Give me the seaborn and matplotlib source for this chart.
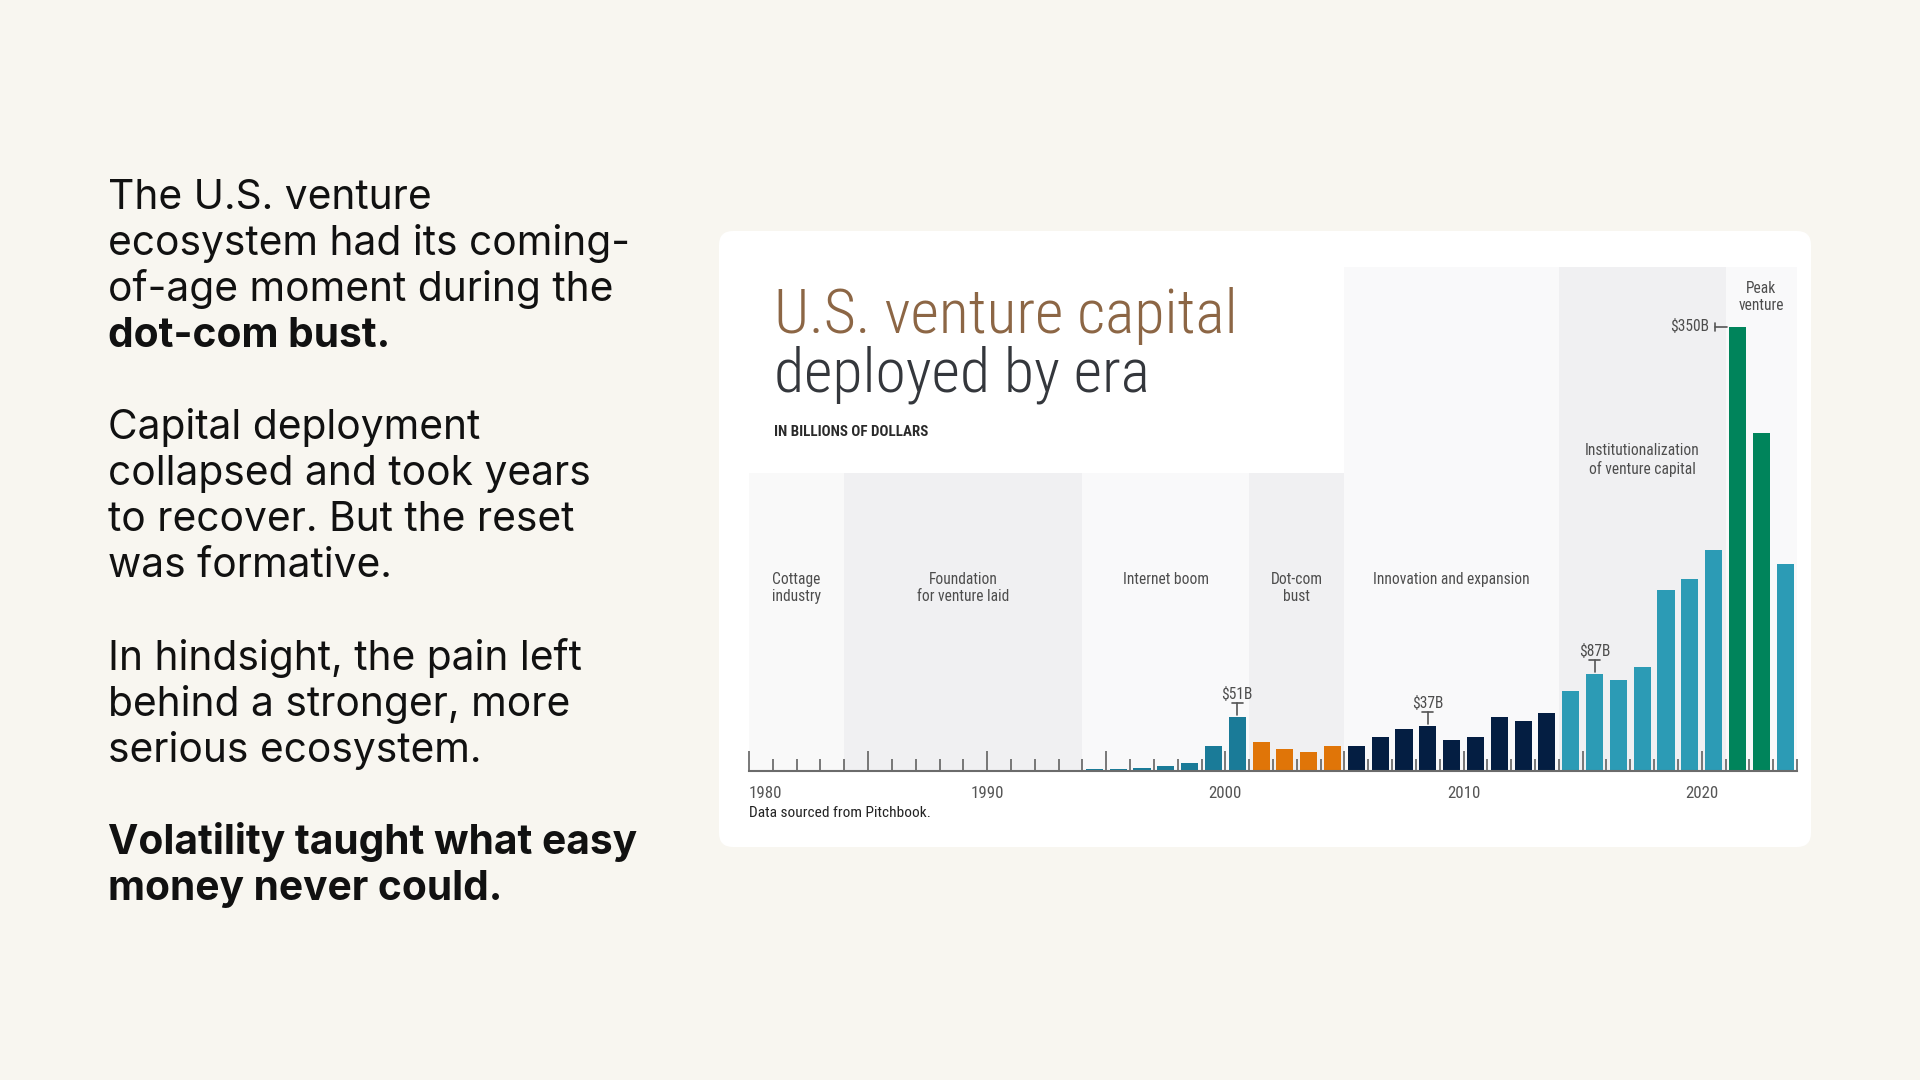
import os
import numpy as np
import pandas as pd
import matplotlib
matplotlib.use("Agg")
import matplotlib.pyplot as plt
import matplotlib.transforms as mtransforms
from matplotlib import font_manager as fm
from matplotlib.patches import FancyBboxPatch
import seaborn as sns

# ---------------- data ----------------
years = [1994, 1995, 1996, 1997, 1998, 1999, 2000, 2001, 2002, 2003,
         2004, 2005, 2006, 2007, 2008, 2009, 2010, 2011, 2012, 2013,
         2014, 2015, 2016, 2017, 2018, 2019, 2020, 2021, 2022, 2023]
values = [1.0, 1.0, 2.4, 3.7, 6.1, 19.7, 42.6, 22.6, 17.3, 15.0,
          19.2, 19.7, 26.8, 32.9, 35.2, 23.9, 26.8, 42.6, 38.9, 45.5,
          62.5, 76.5, 71.7, 81.4, 142.1, 150.8, 174.0, 350.0, 266.0, 162.9]
bar_groups = ["boom", "boom", "boom", "boom", "boom", "boom", "boom",
              "bust", "bust", "bust", "bust",
              "innov", "innov", "innov", "innov", "innov", "innov", "innov", "innov", "innov",
              "inst", "inst", "inst", "inst", "inst", "inst", "inst",
              "peak", "peak", "inst"]
group_colors = {"boom": "#1a7b98", "bust": "#e07508", "innov": "#041e42",
                "inst": "#2c9bb5", "peak": "#00845b"}

era_labels = ["Cottage\nindustry", "Foundation\nfor venture laid", "Internet boom",
              "Dot-com\nbust", "Innovation and expansion",
              "Institutionalization\nof venture capital", "Peak\nventure"]
era_starts = [1980, 1984, 1994, 2001, 2005, 2014, 2021]
era_ends = [1984, 1994, 2001, 2005, 2014, 2021, 2024]

annot_years = [2000, 2008, 2015]
annot_texts = ["$51B", "$37B", "$87B"]
peak_year = 2021
peak_text = "$350B"

decade_ticks = [1980, 1990, 2000, 2010, 2020]

left_lines = [
    ("The U.S. venture", "normal", 0),
    ("ecosystem had its coming-", "normal", 1),
    ("of-age moment during the", "normal", 2),
    ("dot-com bust.", "bold", 3),
    ("Capital deployment", "normal", 5),
    ("collapsed and took years", "normal", 6),
    ("to recover. But the reset", "normal", 7),
    ("was formative.", "normal", 8),
    ("In hindsight, the pain left", "normal", 10),
    ("behind a stronger, more", "normal", 11),
    ("serious ecosystem.", "normal", 12),
    ("Volatility taught what easy", "bold", 14),
    ("money never could.", "bold", 15),
]

# ---------------- fonts ----------------
_paths = [f.fname for f in fm.fontManager.ttflist]


def pick_font(names, fallback_family, fallback_weight="normal"):
    for n in names:
        for p in _paths:
            if os.path.basename(p).lower() == n.lower():
                return fm.FontProperties(fname=p)
    return fm.FontProperties(family=fallback_family, weight=fallback_weight)


def sized(fp, size):
    f = fp.copy()
    f.set_size(size)
    return f


title_fp = pick_font(["NotoSans-CondensedLight.ttf", "NotoSans-ExtraCondensedLight.ttf",
                      "RobotoCondensed-Light.ttf", "OpenSans-CondensedLight.ttf",
                      "DejaVuSansCondensed.ttf", "Roboto-Light.ttf", "Lato-Light.ttf"],
                     "DejaVu Sans", "light")
label_fp = pick_font(["NotoSans-SemiCondensed.ttf", "NotoSans-Condensed.ttf",
                      "RobotoCondensed-Regular.ttf", "DejaVuSansCondensed.ttf"],
                     "Noto Sans")
bold_fp = pick_font(["NotoSans-SemiCondensedBold.ttf", "NotoSans-CondensedBold.ttf",
                     "RobotoCondensed-Bold.ttf", "DejaVuSansCondensed-Bold.ttf"],
                    "Noto Sans", "bold")

LBL = 11.2
TXT_COL = "#4d4d4d"

# ---------------- figure ----------------
sns.set_theme(style="white")
W, H = 1920, 1080
fig = plt.figure(figsize=(19.2, 10.8), dpi=100)
fig.patch.set_facecolor("#f8f6f0")

# card
card = FancyBboxPatch((719, 1080 - 847), 1092, 616,
                      boxstyle="round,pad=0,rounding_size=14",
                      transform=mtransforms.IdentityTransform(),
                      facecolor="white", edgecolor="none", zorder=-5)
fig.patches.append(card)

base_px = 770.7
top_px = 267.0
ax = fig.add_axes([749 / W, 1 - base_px / H, 1048 / W, (base_px - top_px) / H])
ax.set_facecolor("none")

ymax = (base_px - top_px) / 1.2686

# era bands
lower_frac = (base_px - 473) / (base_px - top_px)
band_cols = ["#f9f9f9", "#f0f0f2", "#f9f9fa", "#f0f0f2", "#f9f9fa", "#f0f0f2", "#f9f9fa"]
for i, (s, e) in enumerate(zip(era_starts, era_ends)):
    topf = lower_frac if e <= 2005 else 1.0
    ax.axvspan(s, e, ymin=0, ymax=topf, color=band_cols[i], lw=0, zorder=0)

# bars
df = pd.DataFrame({"pos": np.array(years) + 0.5, "value": values, "group": bar_groups})
sns.barplot(data=df, x="pos", y="value", hue="group", palette=group_colors,
            native_scale=True, dodge=False, width=0.72, errorbar=None,
            saturation=1, legend=False, linewidth=0, ax=ax, zorder=2)
ax.set_xlim(1980, 2024)
ax.set_ylim(0, ymax)
ax.set_xlabel("")
ax.set_ylabel("")

# axis styling
for side in ["top", "right", "left"]:
    ax.spines[side].set_visible(False)
ax.spines["bottom"].set_color("#6b6b6b")
ax.spines["bottom"].set_linewidth(1.5)
ax.spines["bottom"].set_zorder(3)
ax.set_yticks([])
ax.set_xticks(list(range(1980, 2021, 5)))
ax.set_xticks(list(range(1980, 2025)), minor=True)
labs = [str(t) if t in decade_ticks else "" for t in range(1980, 2021, 5)]
ax.set_xticklabels(labs)
ax.tick_params(axis="x", which="major", direction="in", length=14.5, width=1.1,
               color="#555555", pad=11, labelcolor="#555555", bottom=True)
ax.tick_params(axis="x", which="minor", direction="in", length=8.5, width=1.1,
               color="#555555", bottom=True)
for lab in ax.get_xticklabels():
    lab.set_fontproperties(sized(label_fp, 12.2))
ax.get_xticklabels()[0].set_horizontalalignment("left")
ax.set_axisbelow(False)
ax.grid(False)

# era labels
xt = ax.get_xaxis_transform()
for lab, s, e in zip(era_labels, era_starts, era_ends):
    cx = (s + e) / 2
    if lab.startswith("Institutionalization"):
        ypx = 443
    elif lab.startswith("Peak"):
        ypx = 281
    else:
        ypx = 572
    yf = (base_px - ypx) / (base_px - top_px)
    ax.text(cx, yf, lab, transform=xt, ha="center", va="top", color=TXT_COL,
            fontproperties=sized(label_fp, LBL), linespacing=1.2, zorder=4)


def anchor(x, y):
    """Pixel-offset transform anchored at a data point."""
    dx, dy = ax.transData.transform((x, y))
    return mtransforms.offset_copy(mtransforms.IdentityTransform(), fig=fig,
                                   x=dx, y=dy, units="dots")


# annotations ("T" markers)
vals = dict(zip(years, values))
for yr, txt in zip(annot_years, annot_texts):
    v = vals[yr]
    x = yr + 0.5
    tr = anchor(x, v)
    ax.plot([0, 0], [2, 14], color="#555555", lw=1.2, zorder=4, transform=tr)
    ax.plot([-5.5, 5.5], [14, 14], color="#555555", lw=1.2, zorder=4, transform=tr)
    ax.text(0, 18, txt.replace("$", r"\$"), transform=tr, ha="center", va="baseline",
            color=TXT_COL, fontproperties=sized(label_fp, LBL), zorder=4)

# peak annotation (sideways)
pv = vals[peak_year]
tr = anchor(peak_year + 0.5 - 0.36, pv)
ax.plot([-14, -2], [0, 0], color="#555555", lw=1.2, transform=tr, zorder=4)
ax.plot([-14, -14], [-4, 4], color="#555555", lw=1.2, transform=tr, zorder=4)
ax.text(-20, 0, peak_text.replace("$", r"\$"), transform=tr, ha="right", va="center",
        color=TXT_COL, fontproperties=sized(label_fp, LBL), zorder=4)

# ---------------- titles ----------------
fig.text(774 / W, 1 - 333 / H, "U.S. venture capital", color="#8c6645",
         fontproperties=sized(title_fp, 44.5), va="baseline", ha="left")
fig.text(774 / W, 1 - 392 / H, "deployed by era", color="#34373c",
         fontproperties=sized(title_fp, 44.5), va="baseline", ha="left")
fig.text(774 / W, 1 - 432 / H, "IN BILLIONS OF DOLLARS", color="#2a2a2a",
         fontproperties=sized(bold_fp, 10.8), va="center", ha="left")
fig.text(749 / W, 1 - 813 / H, "Data sourced from Pitchbook.", color="#222222",
         fontproperties=sized(label_fp, 11.1), va="center", ha="left")

# ---------------- left narrative ----------------
for txt, wt, slot in left_lines:
    fig.text(108 / W, 1 - (209 + 46.05 * slot) / H, txt, color="#111111",
             family=["Inter", "DejaVu Sans"], weight=wt, fontsize=29.3,
             va="baseline", ha="left")

fig.savefig("out.png", dpi=100, facecolor=fig.get_facecolor())
